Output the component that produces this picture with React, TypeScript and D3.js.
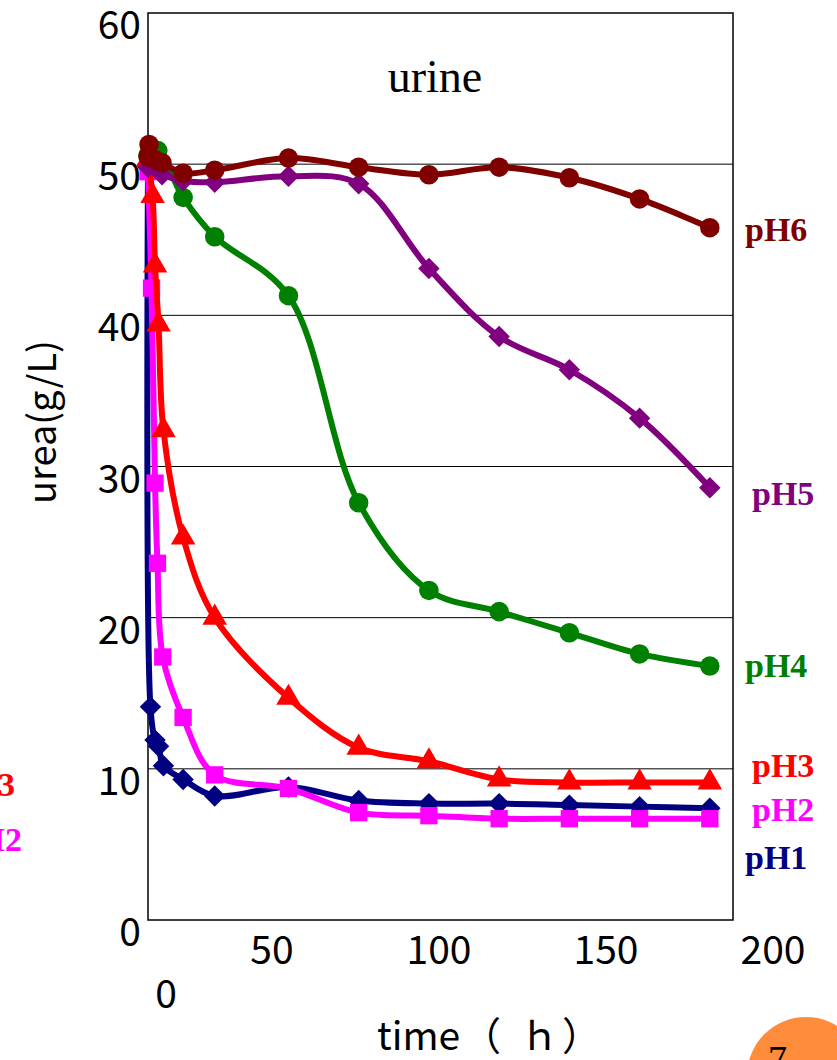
import React from "react";
import * as d3 from "d3";

// ---- data ----
const yTicks = [0, 10, 20, 30, 40, 50, 60];
const xTickLabels = [50, 100, 150, 200];

const tPH1 = [0, 0.7, 2, 3, 4.4, 10, 19, 40, 60, 80, 100, 120, 140, 160];
const vPH1 = [50, 14.1, 11.9, 11.5, 10.2, 9.3, 8.2, 8.8, 7.9, 7.7, 7.7, 7.6, 7.5, 7.4];

const tPH2 = [0, 1, 2, 2.7, 4.2, 10, 19, 40, 60, 80, 100, 120, 140, 160];
const vPH2 = [49.5, 41.8, 28.9, 23.6, 17.4, 13.4, 9.6, 8.7, 7.1, 6.9, 6.7, 6.7, 6.7, 6.7];

const tPH3 = [0, 1.3, 2, 3, 4.4, 10, 19, 40, 60, 80, 100, 120, 140, 160];
const vPH3 = [50.3, 47.9, 43.3, 39.4, 32.4, 25.3, 20.0, 14.7, 11.4, 10.5, 9.3, 9.1, 9.1, 9.1];

const tPH4 = [0, 2.8, 10, 19, 40, 60, 80, 100, 120, 140, 160];
const vPH4 = [50.6, 50.9, 47.8, 45.2, 41.3, 27.6, 21.8, 20.4, 19.0, 17.6, 16.8];

const tPH5 = [0, 4, 10, 19, 40, 60, 80, 100, 120, 140, 160];
const vPH5 = [49.8, 49.3, 48.9, 48.8, 49.2, 48.7, 43.1, 38.6, 36.4, 33.2, 28.6];

const tPH6 = [0, 0.3, 2, 4, 10, 19, 40, 60, 80, 100, 120, 140, 160];
const vPH6 = [50.5, 51.3, 50.3, 50.1, 49.4, 49.6, 50.4, 49.8, 49.3, 49.8, 49.1, 47.7, 45.8];

const seriesNames = ["pH1", "pH2", "pH3", "pH4", "pH5", "pH6"];

type Marker = "diamond" | "square" | "triangle" | "circle";

const series = [
  { name: "pH1", t: tPH1, v: vPH1, color: "#000080", marker: "diamond" as Marker },
  { name: "pH2", t: tPH2, v: vPH2, color: "#FF00FF", marker: "square" as Marker },
  { name: "pH3", t: tPH3, v: vPH3, color: "#FF0000", marker: "triangle" as Marker },
  { name: "pH4", t: tPH4, v: vPH4, color: "#008000", marker: "circle" as Marker },
  { name: "pH5", t: tPH5, v: vPH5, color: "#800080", marker: "diamond" as Marker },
  { name: "pH6", t: tPH6, v: vPH6, color: "#800000", marker: "circle" as Marker },
];

// label positions (right side)
const labelPos: Record<string, { x: number; y: number }> = {
  pH6: { x: 745, y: 241 },
  pH5: { x: 752, y: 505 },
  pH4: { x: 745, y: 677 },
  pH3: { x: 752, y: 777 },
  pH2: { x: 752, y: 821 },
  pH1: { x: 745, y: 869 },
};

const W = 837;
const H = 1060;
const plot = { left: 148, right: 733, top: 13, bottom: 920 };

export default function App() {
  const x = d3.scaleLinear().domain([0, 166.6]).range([plot.left, plot.right]);
  const y = d3.scaleLinear().domain([0, 60]).range([plot.bottom, plot.top]);
  // tick-label scale as placed on the slide
  const xl = d3.scaleLinear().domain([0, 200]).range([105, 773]);

  const line = d3
    .line<[number, number]>()
    .x((d) => x(d[0]))
    .y((d) => y(d[1]))
    .curve(d3.curveCatmullRom.alpha(0.5));

  const symbolPath = (m: Marker) => {
    if (m === "diamond") return d3.symbol(d3.symbolSquare, 230)();
    if (m === "square") return d3.symbol(d3.symbolSquare, 300)();
    if (m === "triangle") return d3.symbol(d3.symbolTriangle, 260)();
    return d3.symbol(d3.symbolCircle, 300)();
  };

  const sans = "'Noto Sans CJK JP', 'Noto Sans', sans-serif";
  const serif = "'Liberation Serif', 'DejaVu Serif', serif";

  return (
    <svg
      width={W}
      height={H}
      style={{ position: "absolute", left: 0, top: 0, overflow: "hidden", background: "#fff" }}
    >
      <rect x={0} y={0} width={W} height={H} fill="#fff" />
      {/* gridlines */}
      {yTicks
        .filter((t) => t > 0 && t < 60)
        .map((t) => (
          <line key={t} x1={plot.left} x2={plot.right} y1={y(t)} y2={y(t)} stroke="#000" strokeWidth={1} />
        ))}
      {/* frame */}
      <rect
        x={plot.left}
        y={plot.top}
        width={plot.right - plot.left}
        height={plot.bottom - plot.top}
        fill="none"
        stroke="#000"
        strokeWidth={1.5}
      />
      {/* y tick labels */}
      {yTicks.map((t) => (
        <text
          key={t}
          x={141}
          y={y(t) + 26}
          textAnchor="end"
          fontFamily={sans}
          fontSize={39}
          fill="#000"
        >
          {t}
        </text>
      ))}
      {/* x tick labels */}
      {xTickLabels.map((t) => (
        <text key={t} x={xl(t)} y={964} textAnchor="middle" fontFamily={sans} fontSize={39} fill="#000">
          {t}
        </text>
      ))}
      <text x={166} y={1008} textAnchor="middle" fontFamily={sans} fontSize={39} fill="#000">
        0
      </text>
      {/* axis titles */}
      <text y={1050} fontFamily={sans} fontSize={39} fill="#000">
        <tspan x={377}>time</tspan>
        <tspan x={462}>（</tspan>
        <tspan x={520}>ｈ</tspan>
        <tspan x={562}>）</tspan>
      </text>
      <text
        transform={`translate(56, 422) rotate(-90)`}
        textAnchor="middle"
        fontFamily={sans}
        fontSize={38}
        fill="#000"
      >
        urea(g/L)
      </text>
      <text x={435} y={92} textAnchor="middle" fontFamily={serif} fontSize={46} fill="#000">
        urine
      </text>

      {/* series */}
      {series.map((s) => {
        const pts: [number, number][] = s.t.map((t, i) => [t, s.v[i]]);
        const sp = symbolPath(s.marker);
        const rot = s.marker === "diamond" ? " rotate(45)" : "";
        return (
          <g key={s.name}>
            <path d={line(pts) || ""} fill="none" stroke={s.color} strokeWidth={6} strokeLinejoin="round" />
            {pts.map((p, i) => (
              <path
                key={i}
                d={sp || ""}
                transform={`translate(${x(p[0])},${y(p[1])})${rot}`}
                fill={s.color}
              />
            ))}
          </g>
        );
      })}

      {/* right labels */}
      {series.map((s) => (
        <text
          key={s.name}
          x={labelPos[s.name].x}
          y={labelPos[s.name].y}
          fontFamily={serif}
          fontWeight="bold"
          fontSize={34}
          fill={s.color}
        >
          {s.name}
        </text>
      ))}
      {/* clipped labels from the left edge */}
      <text x={15} y={796} textAnchor="end" fontFamily={serif} fontWeight="bold" fontSize={34} fill="#FF0000">
        {seriesNames[2]}
      </text>
      <text x={22} y={851} textAnchor="end" fontFamily={serif} fontWeight="bold" fontSize={34} fill="#FF00FF">
        {seriesNames[1]}
      </text>

      {/* page number badge */}
      <circle cx={806} cy={1076} r={59} fill="#FF8C3A" />
      <text x={768} y={1072} fontFamily={serif} fontSize={38} fill="#000">
        7
      </text>
    </svg>
  );
}
